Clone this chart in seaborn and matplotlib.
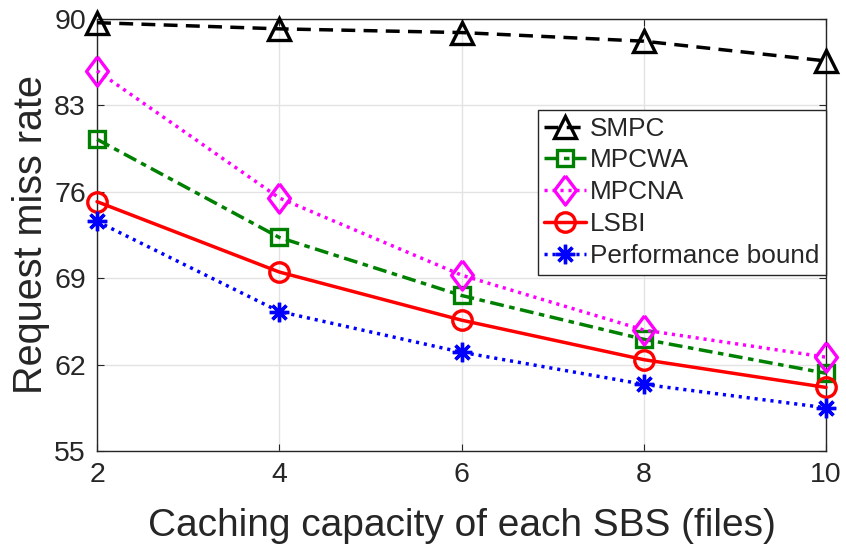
import numpy as np
import pandas as pd
import matplotlib
matplotlib.use("Agg")
import matplotlib.pyplot as plt
import seaborn as sns

# ---- data ----
capacity = [2, 4, 6, 8, 10]
smpc = [89.7, 89.2, 88.9, 88.2, 86.6]
mpcwa = [80.25, 72.3, 67.6, 64.05, 61.3]
mpcna = [85.8, 75.5, 69.25, 64.8, 62.6]
lsbi = [75.2, 69.5, 65.6, 62.4, 60.15]
bound = [73.6, 66.3, 63.0, 60.4, 58.5]
series_names = ["SMPC", "MPCWA", "MPCNA", "LSBI", "Performance bound"]
y_ticks = [55, 62, 69, 76, 83, 90]
x_ticks = [2, 4, 6, 8, 10]

sns.set_style("white")
plt.rcParams["font.family"] = ["Liberation Sans", "DejaVu Sans"]

fig = plt.figure(figsize=(8.46, 5.55), dpi=100)
ax = fig.add_axes([0.1147, 0.1874, 0.8617, 0.7784])

diamond = [(0, 1), (0.75, 0), (0, -1), (-0.75, 0), (0, 1)]
styles = [
    dict(color="black", marker="^", markersize=16, linestyle=(0, (4, 2.4))),
    dict(color="#008000", marker="s", markersize=12, linestyle=(0, (4, 1.6, 1.6, 1.6))),
    dict(color="#FF00FF", marker=diamond, markersize=21, linestyle=(0, (0.9, 1.4))),
    dict(color="#FF0000", marker="o", markersize=14, linestyle="-"),
    dict(color="#0000FF", marker=(8, 2, 0), markersize=14, linestyle=(0, (0.9, 1.4))),
]
values = [smpc, mpcwa, mpcna, lsbi, bound]

for name, vals, st in zip(series_names, values, styles):
    df = pd.DataFrame({"capacity": capacity, "rate": vals})
    sns.lineplot(data=df, x="capacity", y="rate", ax=ax, label=name,
                 color=st["color"], marker=st["marker"], markersize=st["markersize"],
                 linestyle=st["linestyle"], linewidth=2.5,
                 markerfacecolor="none", markeredgecolor=st["color"],
                 markeredgewidth=2.4, clip_on=False, zorder=3)

ax.set_xlim(2, 10)
ax.set_ylim(55, 90)
ax.set_xticks(x_ticks)
ax.set_yticks(y_ticks)
ax.grid(True, color="#e3e3e3", linewidth=1.0)
ax.set_axisbelow(True)
for sp in ax.spines.values():
    sp.set_color("#262626")
    sp.set_linewidth(1.0)
    sp.set_visible(True)
ax.tick_params(axis="both", direction="in", length=5, width=0.8, color="#262626",
               labelsize=20.5, labelcolor="#262626", top=True, right=True,
               bottom=True, left=True)
ax.tick_params(axis="y", pad=8)
ax.tick_params(axis="x", pad=8)
ax.set_xlabel("Caching capacity of each SBS (files)", fontsize=28, color="#262626", labelpad=14)
ax.set_ylabel("Request miss rate", fontsize=28.5, color="#262626", labelpad=3)

leg = ax.legend(loc="upper right", bbox_to_anchor=(1.0, 0.789), fontsize=18.8,
                frameon=True, fancybox=False, edgecolor="#262626", framealpha=1,
                borderaxespad=0, borderpad=0.25, handlelength=1.6, handletextpad=0.15,
                labelspacing=0.3, markerscale=1.0)
leg.get_frame().set_linewidth(1.0)

fig.savefig("out.png", dpi=100)
